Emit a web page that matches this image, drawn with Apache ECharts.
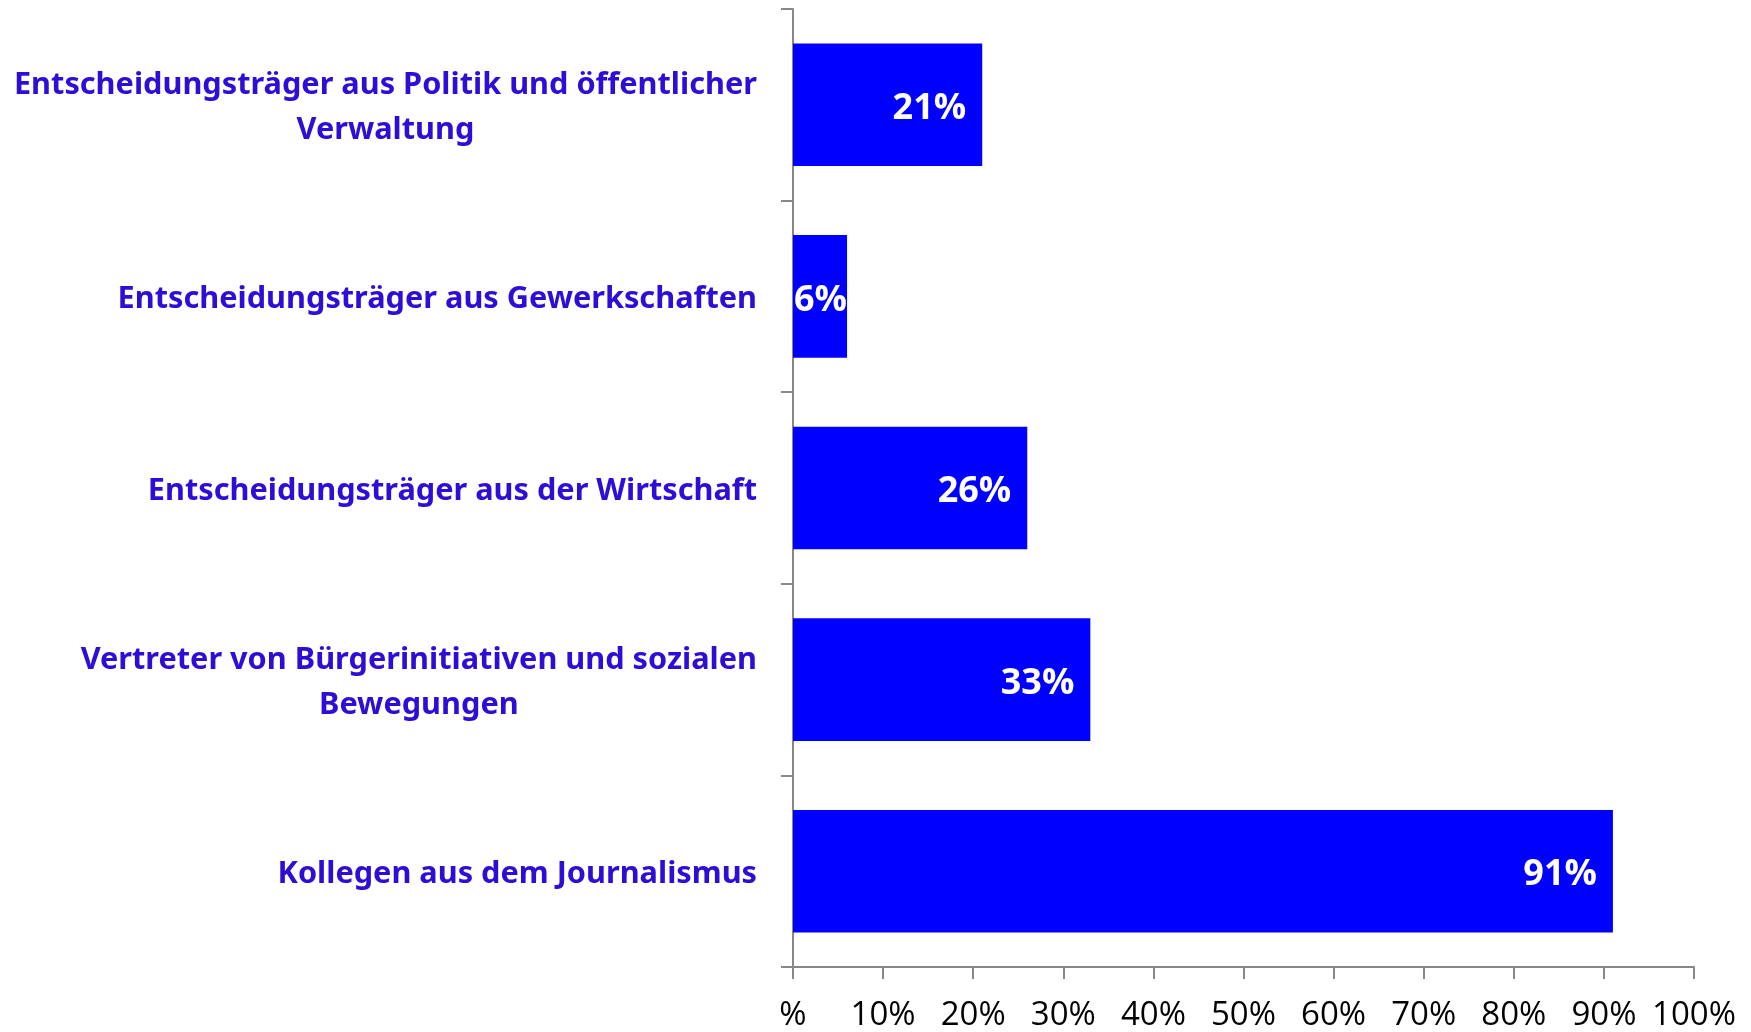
<!DOCTYPE html>
<html>
<head>
<meta charset="utf-8">
<script src="https://cdn.jsdelivr.net/npm/echarts@6/dist/echarts.min.js"></script>
<style>
  html, body { margin: 0; padding: 0; background: #fff; }
  #chart { width: 1751px; height: 1032px; }
</style>
</head>
<body>
<div id="chart"></div>
<script>
// Kategorien (von oben nach unten)
var categories = [
  "Entscheidungsträger aus Politik und öffentlicher\nVerwaltung",
  "Entscheidungsträger aus Gewerkschaften",
  "Entscheidungsträger aus der Wirtschaft",
  "Vertreter von Bürgerinitiativen und sozialen\nBewegungen",
  "Kollegen aus dem Journalismus"
];
var values = [21, 6, 26, 33, 91];
var xTicks = [0, 10, 20, 30, 40, 50, 60, 70, 80, 90, 100];

var axisGrey = "#888888";

// kleine Balken: Beschriftung ab Balkenanfang statt am Ende
var barData = values.map(function (v) {
  if (v < 10) {
    return { value: v, label: { position: "insideLeft", distance: 1 } };
  }
  return v;
});

var chart = echarts.init(document.getElementById("chart"));
chart.setOption({
  animation: false,
  grid: { left: 793, right: 57, top: 9, bottom: 65, outerBoundsMode: "none", containLabel: false },
  xAxis: {
    type: "value",
    min: xTicks[0],
    max: xTicks[xTicks.length - 1],
    interval: 10,
    splitLine: { show: false },
    axisLine: { show: true, lineStyle: { color: axisGrey, width: 2 } },
    axisTick: { show: true, length: 12, lineStyle: { color: axisGrey, width: 2 } },
    axisLabel: {
      margin: 32,
      color: "#000",
      fontFamily: "Open Sans",
      fontSize: 33,
      formatter: function (v) { return v === 0 ? "%" : v + "%"; }
    }
  },
  yAxis: {
    type: "category",
    inverse: true,
    data: categories,
    axisLine: { show: true, lineStyle: { color: axisGrey, width: 2 } },
    axisTick: { show: true, length: 12, lineStyle: { color: axisGrey, width: 2 } },
    axisLabel: {
      margin: 36,
      align: "right",
      formatter: function (s) {
        return s.split("\n").map(function (l) { return "{c|" + l + "}"; }).join("\n");
      },
      rich: {
        c: {
          align: "center",
          color: "#2E0ED6",
          fontFamily: "Noto Sans",
          fontWeight: "bold",
          fontSize: 30.7,
          lineHeight: 45,
          padding: [6, 0, 0, 0]
        }
      }
    }
  },
  series: [{
    type: "bar",
    data: barData,
    barCategoryGap: "36%",
    itemStyle: { color: "#0000FF" },
    label: {
      show: true,
      position: "insideRight",
      distance: 16,
      offset: [0, 4],
      color: "#fff",
      fontFamily: "Open Sans",
      fontWeight: "bold",
      fontSize: 36,
      formatter: function (p) { return p.value + "%"; }
    }
  }]
});
</script>
</body>
</html>
